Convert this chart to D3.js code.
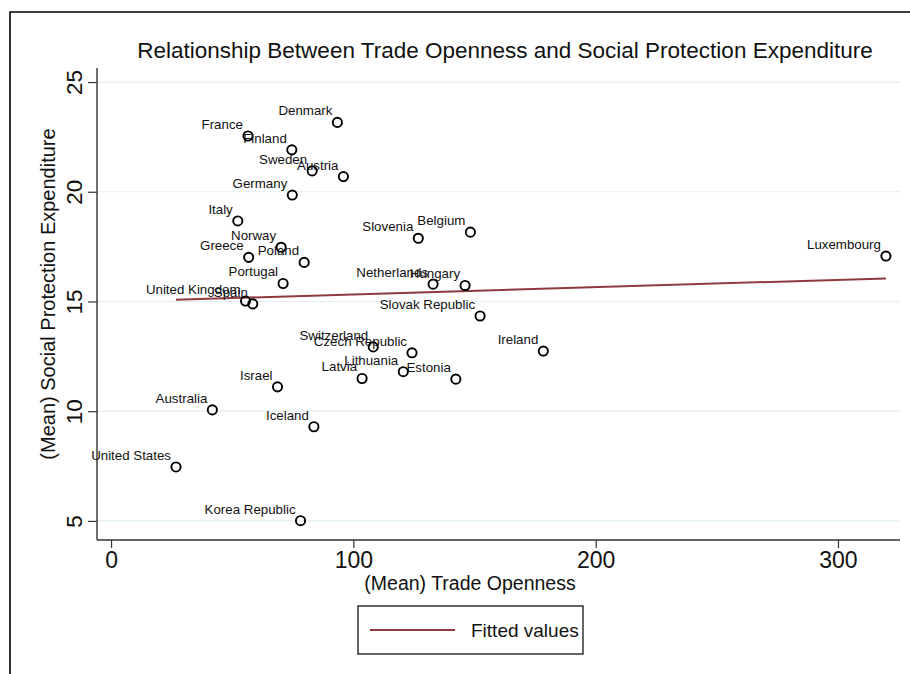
<!DOCTYPE html>
<html><head><meta charset="utf-8">
<script src="https://cdn.jsdelivr.net/npm/d3@7"></script>
<style>
body{margin:0;background:#fff}
svg{display:block}
text{font-family:"Liberation Sans",Arial,Helvetica,sans-serif;fill:#111}
</style>
</head><body>
<svg id="chart" width="910" height="674"></svg>
<script>
// ---- data ----
const countries = ["Denmark","France","Finland","Sweden","Austria","Germany","Italy","Norway","Greece","Poland","Portugal","Slovenia","Belgium","Netherlands","Hungary","Luxembourg","United Kingdom","Spain","Slovak Republic","Switzerland","Czech Republic","Ireland","Lithuania","Latvia","Estonia","Israel","Australia","Iceland","United States","Korea Republic"];
const tradeOpenness = [93.4,56.5,74.6,83.0,95.9,74.8,52.3,70.2,56.8,79.7,71.0,126.8,148.3,132.9,146.1,319.8,55.5,58.5,152.3,108.2,124.2,178.4,120.6,103.6,142.3,68.7,41.8,83.7,26.8,78.2];
const socialProtection = [23.16,22.54,21.91,20.95,20.69,19.85,18.67,17.47,17.01,16.78,15.82,17.88,18.16,15.79,15.73,17.07,15.02,14.89,14.34,12.93,12.66,12.74,11.80,11.49,11.46,11.11,10.06,9.29,7.46,5.01];
const fittedX = [26.8, 319.8];
const fittedY = [15.08, 16.05];
const xTicks = [0,100,200,300];
const yTicks = [5,10,15,20,25];
const titleText = "Relationship Between Trade Openness and Social Protection Expenditure";
const xTitle = "(Mean) Trade Openness";
const yTitle = "(Mean) Social Protection Expenditure";
const legendLabel = "Fitted values";

const svg = d3.select("#chart");
const W = 910, H = 674;
const plot = {left:97, right:900, top:68, bottom:540};

// outer frame (left/top visible)
svg.append("path").attr("d", `M10,${H} L10,12 L${W},12`).attr("fill","none").attr("stroke","#000").attr("stroke-width",1.6);

const x = d3.scaleLinear().domain([-5.8, 325.6]).range([plot.left, plot.right]);
const y = d3.scaleLinear().domain([4.13, 25.64]).range([plot.bottom, plot.top]);

// gridlines
svg.append("g").selectAll("line").data(yTicks).join("line")
  .attr("x1", plot.left).attr("x2", plot.right)
  .attr("y1", d=>y(d)).attr("y2", d=>y(d))
  .attr("stroke","#e2eef1").attr("stroke-width",1.2);

// y axis
const yAxis = svg.append("g").attr("transform",`translate(${plot.left},0)`)
  .call(d3.axisLeft(y).tickValues(yTicks).tickSize(9).tickFormat(d3.format("d")));
yAxis.select(".domain").attr("stroke","#333").attr("stroke-width",1.4).attr("d",`M0,${plot.top}V${plot.bottom}`);
yAxis.selectAll(".tick line").attr("stroke","#333").attr("stroke-width",1.2);
yAxis.selectAll(".tick text")
  .attr("transform","rotate(-90)").attr("x",0).attr("y",-15).attr("dy",0)
  .attr("text-anchor","middle").style("font-size","22.5px").style("font-family",'"Liberation Sans",Arial,sans-serif').attr("fill","#111");

// x axis
const xAxis = svg.append("g").attr("transform",`translate(0,${plot.bottom})`)
  .call(d3.axisBottom(x).tickValues(xTicks).tickSize(8).tickPadding(4).tickFormat(d3.format("d")));
xAxis.select(".domain").attr("stroke","#333").attr("stroke-width",1.4).attr("d",`M${plot.left},0H${plot.right}`);
xAxis.selectAll(".tick line").attr("stroke","#333").attr("stroke-width",1.2);
xAxis.selectAll(".tick text").style("font-size","23px").style("font-family",'"Liberation Sans",Arial,sans-serif').attr("fill","#111");

// titles
svg.append("text").attr("x",505).attr("y",58).attr("text-anchor","middle").style("font-size","22.5px").text(titleText);
svg.append("text").attr("x",470).attr("y",590).attr("text-anchor","middle").style("font-size","19.5px").text(xTitle);
svg.append("text").attr("transform",`translate(55,${(plot.top+plot.bottom)/2 - 10}) rotate(-90)`).attr("text-anchor","middle").style("font-size","20px").text(yTitle);

// fitted line
const fitted = fittedX.map((d,i)=>[d, fittedY[i]]);
svg.append("path").datum(fitted)
  .attr("d", d3.line().x(d=>x(d[0])).y(d=>y(d[1])))
  .attr("fill","none").attr("stroke","#8f3a3e").attr("stroke-width",2);

// points
const pts = countries.map((c,i)=>({c, tx:tradeOpenness[i], sp:socialProtection[i]}));
svg.append("g").selectAll("circle").data(pts).join("circle")
  .attr("cx", d=>x(d.tx)).attr("cy", d=>y(d.sp)).attr("r",4.6)
  .attr("fill","none").attr("stroke","#000").attr("stroke-width",1.9);

// labels
svg.append("g").selectAll("text").data(pts).join("text")
  .attr("x", d=>x(d.tx)-5).attr("y", d=>y(d.sp)-7)
  .attr("text-anchor","end").style("font-size","13.3px").text(d=>d.c);

// legend
const lg = svg.append("g");
lg.append("rect").attr("x",358).attr("y",606).attr("width",225).attr("height",48)
  .attr("fill","#fff").attr("stroke","#000").attr("stroke-width",1.2);
lg.append("line").attr("x1",370).attr("x2",455).attr("y1",630).attr("y2",630)
  .attr("stroke","#8f3a3e").attr("stroke-width",2);
lg.append("text").attr("x",471).attr("y",637).style("font-size","19px").text(legendLabel);
</script>
</body></html>
